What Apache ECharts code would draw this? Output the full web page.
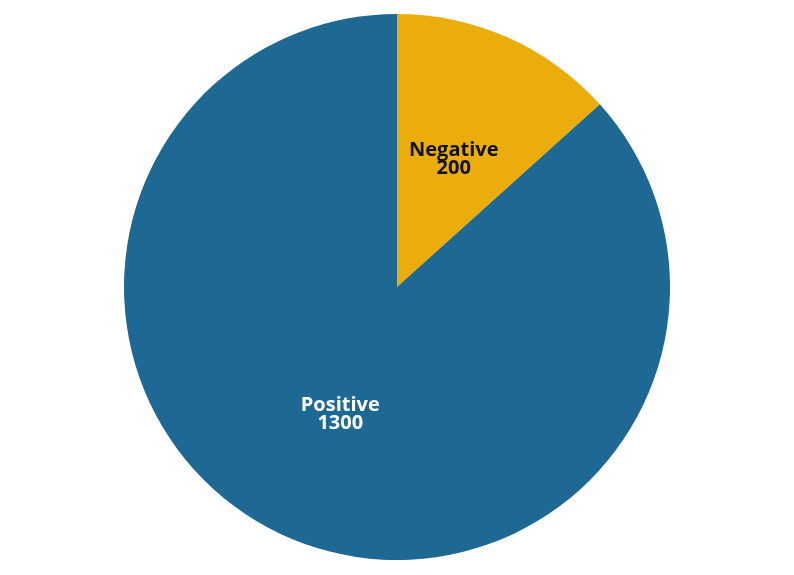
<!DOCTYPE html>
<html>
<head>
<meta charset="utf-8">
<script src="https://cdn.jsdelivr.net/npm/echarts@6/dist/echarts.min.js"></script>
<style>
html, body { margin: 0; padding: 0; background: #fff; }
#pie { width: 794px; height: 575px; }
</style>
</head>
<body>
<div id="pie"></div>
<script>
var names = ['Negative', 'Positive'];
var values = [200, 1300];
var colors = ['#ebad0b', '#1d6993'];
var labelColors = ['#111111', '#ffffff'];

var chart_pie = echarts.init(document.getElementById('pie'));

var pie_data = [];
for (var i = 0; i < names.length; i++) {
    pie_data.push({
        name: names[i],
        value: values[i],
        itemStyle: { color: colors[i] },
        label: { color: labelColors[i] }
    });
}

chart_pie.setOption({
    animation: false,
    series: [{
        type: 'pie',
        center: [397, 287],
        radius: [0, 273],
        startAngle: 90,
        clockwise: true,
        data: pie_data,
        label: {
            show: true,
            position: 'inside',
            formatter: '{b}\n{c}',
            fontFamily: 'Open Sans',
            fontWeight: 'bold',
            fontSize: 20,
            lineHeight: 18
        },
        labelLine: { show: false },
        itemStyle: { borderWidth: 0 },
        emphasis: { disabled: true }
    }]
});
</script>
</body>
</html>
